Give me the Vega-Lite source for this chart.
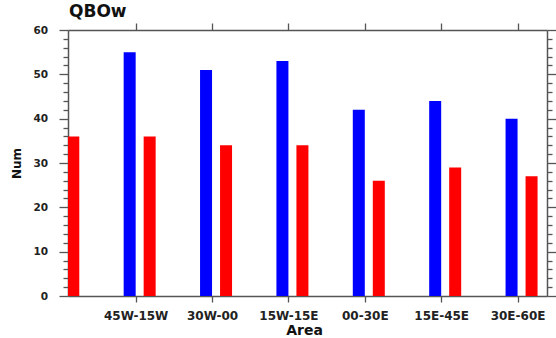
{
  "$schema": "https://vega.github.io/schema/vega-lite/v6.json",
  "width": 479,
  "height": 266,
  "autosize": "none",
  "padding": {"left": 68, "top": 30, "right": 9, "bottom": 42},
  "background": "white",
  "title": {
    "text": "QBOw",
    "anchor": "start",
    "frame": "group",
    "font": "DejaVu Sans",
    "fontWeight": "bold",
    "fontSize": 17,
    "color": "#111",
    "baseline": "alphabetic",
    "offset": 4,
    "dx": 1,
    "dy": 16
  },
  "config": {
    "view": {"stroke": null},
    "axis": {
      "domainColor": "#555",
      "domainWidth": 1.5,
      "tickColor": "#555",
      "tickWidth": 1.3,
      "labelFont": "DejaVu Sans",
      "labelFontWeight": "bold",
      "labelColor": "#222",
      "titleFont": "DejaVu Sans",
      "titleFontWeight": "bold",
      "titleColor": "#111",
      "grid": false
    }
  },
  "data": {
    "values": [
      {"area": "60W-30W", "idx": 0, "series": "B", "value": 36},
      {"area": "45W-15W", "idx": 1, "series": "A", "value": 55},
      {"area": "45W-15W", "idx": 1, "series": "B", "value": 36},
      {"area": "30W-00", "idx": 2, "series": "A", "value": 51},
      {"area": "30W-00", "idx": 2, "series": "B", "value": 34},
      {"area": "15W-15E", "idx": 3, "series": "A", "value": 53},
      {"area": "15W-15E", "idx": 3, "series": "B", "value": 34},
      {"area": "00-30E", "idx": 4, "series": "A", "value": 42},
      {"area": "00-30E", "idx": 4, "series": "B", "value": 26},
      {"area": "15E-45E", "idx": 5, "series": "A", "value": 44},
      {"area": "15E-45E", "idx": 5, "series": "B", "value": 29},
      {"area": "30E-60E", "idx": 6, "series": "A", "value": 40},
      {"area": "30E-60E", "idx": 6, "series": "B", "value": 27}
    ]
  },
  "layer": [
    {
      "transform": [{"filter": "datum.series === 'A'"}],
      "mark": {"type": "bar", "width": 12, "clip": true, "xOffset": -6},
      "encoding": {
        "x": {
          "field": "idx",
          "type": "quantitative",
          "scale": {"domain": [0.1795, 6.32], "nice": false, "zero": false},
          "axis": {
            "orient": "bottom",
            "title": "Area",
            "titleFontSize": 14,
            "titlePadding": 2,
            "titleX": 236,
            "values": [1, 2, 3, 4, 5, 6],
            "labelExpr": "['60W-30W','45W-15W','30W-00','15W-15E','00-30E','15E-45E','30E-60E'][datum.value]",
            "labelFontSize": 12,
            "tickSize": 6,
            "labelPadding": 8,
            "labelFlush": false,
            "labelOverlap": false
          }
        },
        "y": {
          "field": "value",
          "type": "quantitative",
          "scale": {"domain": [0, 60], "nice": false},
          "axis": {
            "orient": "left",
            "title": "Num",
            "titleFontSize": 12,
            "titlePadding": 9,
            "values": [0, 2, 4, 6, 8, 10, 12, 14, 16, 18, 20, 22, 24, 26, 28, 30, 32, 34, 36, 38, 40, 42, 44, 46, 48, 50, 52, 54, 56, 58, 60],
            "labelExpr": "datum.value % 10 === 0 ? datum.label : ''",
            "labelFontSize": 10.5,
            "tickSize": {"condition": {"test": "datum.value % 10 === 0", "value": 9}, "value": 5},
            "labelPadding": 11.5,
            "labelFlush": false,
            "labelOverlap": false
          }
        },
        "color": {
          "field": "series",
          "type": "nominal",
          "scale": {"domain": ["A", "B"], "range": ["#0000ff", "#ff0000"]},
          "legend": null
        }
      }
    },
    {
      "transform": [{"filter": "datum.series === 'B'"}],
      "mark": {"type": "bar", "width": 12, "clip": true, "xOffset": 14},
      "encoding": {
        "x": {
          "field": "idx",
          "type": "quantitative",
          "axis": {
            "orient": "top",
            "title": null,
            "values": [1, 2, 3, 4, 5, 6],
            "labels": false,
            "tickSize": 7
          }
        },
        "y": {
          "field": "value",
          "type": "quantitative",
          "axis": {
            "orient": "right",
            "title": null,
            "values": [0, 2, 4, 6, 8, 10, 12, 14, 16, 18, 20, 22, 24, 26, 28, 30, 32, 34, 36, 38, 40, 42, 44, 46, 48, 50, 52, 54, 56, 58, 60],
            "labels": false,
            "tickSize": {"condition": {"test": "datum.value % 10 === 0", "value": 9}, "value": 5}
          }
        },
        "color": {
          "field": "series",
          "type": "nominal",
          "legend": null
        }
      }
    }
  ],
  "resolve": {"axis": {"x": "independent", "y": "independent"}}
}
